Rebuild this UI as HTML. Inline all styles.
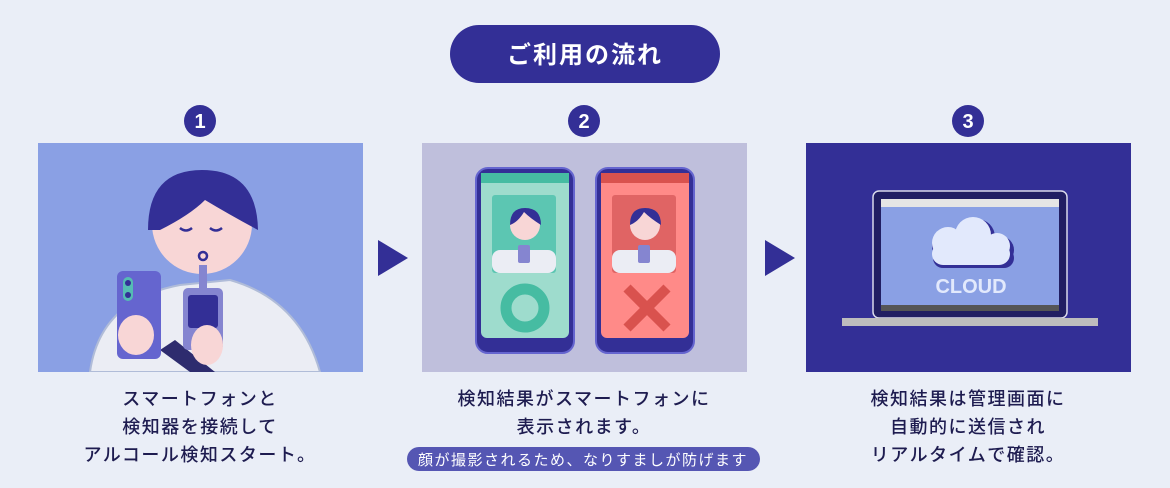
<!DOCTYPE html>
<html><head><meta charset="utf-8"><style>
body{margin:0;width:1170px;height:488px;background:#eaeef7;overflow:hidden;font-family:"Liberation Sans","Noto Sans CJK JP",sans-serif}
svg{display:block}
</style></head><body>
<svg width="1170" height="488" viewBox="0 0 1170 488" xmlns="http://www.w3.org/2000/svg" font-family="Liberation Sans, Noto Sans CJK JP, sans-serif">
<rect x="450" y="25" width="270" height="58" rx="29" fill="#332f96"/>
<text x="585" y="63" text-anchor="middle" fill="#fff" font-size="24" font-weight="bold" letter-spacing="2">ご利用の流れ</text>
<g fill="#332f96"><circle cx="200" cy="121" r="16"/><circle cx="584" cy="121" r="16"/><circle cx="968" cy="121" r="16"/></g>
<g fill="#fff" font-size="20" font-weight="bold" text-anchor="middle"><text x="200" y="128">1</text><text x="584" y="128">2</text><text x="968" y="128">3</text></g>
<!-- panel 1 -->
<rect x="38" y="143" width="325" height="229" fill="#8aa0e4"/>
<clipPath id="c1"><rect x="38" y="143" width="325" height="229"/></clipPath>
<g clip-path="url(#c1)">
<path d="M90 372 Q100 300 180 285 L230 280 Q300 300 320 372Z" fill="#ebedf4" stroke="#b0bcd8" stroke-width="2"/>
<circle cx="202" cy="224" r="50" fill="#f8d6d6"/>
<path d="M148 230 Q148 170 202 170 Q257 170 258 230 Q230 215 205 200 Q190 215 160 230Z" fill="#332f96"/>
<path d="M180 228 q6 5 12 0 M210 228 q6 5 12 0" stroke="#332f96" stroke-width="2.5" fill="none"/>
<circle cx="203" cy="256" r="4" fill="none" stroke="#332f96" stroke-width="2.5"/>
<rect x="199" y="265" width="8" height="28" fill="#8585d0"/>
<path d="M160 350 L175 340 L215 372 L190 372Z" fill="#2e2c6e"/>
<rect x="117" y="271" width="44" height="88" rx="6" fill="#6565cf"/>
<rect x="123" y="277" width="10" height="24" rx="5" fill="#55bcb3"/><circle cx="128" cy="283" r="3" fill="#332f96"/><circle cx="128" cy="295" r="3" fill="#332f96"/>
<rect x="183" y="288" width="40" height="62" rx="5" fill="#8585d0"/>
<rect x="188" y="295" width="30" height="33" rx="3" fill="#332f96"/>
<ellipse cx="136" cy="335" rx="18" ry="20" fill="#f8d6d6"/>
<ellipse cx="207" cy="345" rx="16" ry="20" fill="#f8d6d6"/>
</g>
<!-- arrows -->
<polygon points="378,240 408,258 378,276" fill="#332f96"/>
<polygon points="765,240 795,258 765,276" fill="#332f96"/>
<!-- panel 2 -->
<rect x="422" y="143" width="325" height="229" fill="#bfbfdc"/>
<rect x="476" y="168" width="98" height="185" rx="12" fill="#332f96" stroke="#6565cf" stroke-width="2"/>
<rect x="481" y="173" width="88" height="165" rx="6" fill="#9edccd"/>
<rect x="481" y="173" width="88" height="10" fill="#46bca2"/>
<rect x="492" y="195" width="64" height="78" rx="3" fill="#5cc6b2"/>
<circle cx="525" cy="308" r="19" fill="none" stroke="#46bca2" stroke-width="11"/>
<rect x="596" y="168" width="98" height="185" rx="12" fill="#332f96" stroke="#6565cf" stroke-width="2"/>
<rect x="601" y="173" width="88" height="165" rx="6" fill="#ff8a88"/>
<rect x="601" y="173" width="88" height="10" fill="#d9524e"/>
<rect x="612" y="195" width="64" height="78" rx="3" fill="#e06464"/>
<path d="M627 288 L667 328 M667 288 L627 328" stroke="#d9524e" stroke-width="10"/>
<g><circle cx="525" cy="225" r="15" fill="#f8d6d6"/><path d="M510 225 Q510 208 525 208 Q541 208 541 225 Q530 218 524 212 Q518 222 510 225Z" fill="#332f96"/><rect x="492" y="250" width="64" height="23" rx="8" fill="#ebedf4"/><rect x="518" y="245" width="12" height="18" rx="2" fill="#8585d0"/></g>
<g><circle cx="645" cy="225" r="15" fill="#f8d6d6"/><path d="M630 225 Q630 208 645 208 Q661 208 661 225 Q650 218 644 212 Q638 222 630 225Z" fill="#332f96"/><rect x="612" y="250" width="64" height="23" rx="8" fill="#ebedf4"/><rect x="638" y="245" width="12" height="18" rx="2" fill="#8585d0"/></g>
<!-- panel 3 -->
<rect x="806" y="143" width="325" height="229" fill="#332f96"/>
<rect x="873" y="191" width="194" height="127" rx="6" fill="#211e62" stroke="#d9d9ea" stroke-width="1.5"/>
<rect x="881" y="199" width="178" height="111" fill="#8aa0e4"/>
<rect x="881" y="199" width="178" height="8" fill="#e5e5e5"/>
<rect x="881" y="305" width="178" height="6" fill="#555"/>
<rect x="842" y="318" width="256" height="8" fill="#bdbdbd"/>
<g fill="#332f96"><circle cx="950" cy="246" r="18"/><circle cx="977" cy="237" r="18"/><circle cx="1000" cy="250" r="14"/><rect x="933" y="248" width="81" height="20" rx="10"/></g>
<g fill="#e2e9fc"><circle cx="948" cy="243" r="16"/><circle cx="973" cy="235" r="18"/><circle cx="997" cy="246" r="13"/><rect x="932" y="243" width="78" height="22" rx="11"/></g>
<text x="971" y="293" text-anchor="middle" fill="#e2e9fc" font-size="20" font-weight="bold">CLOUD</text>
<!-- captions -->
<g fill="#1e1c50" font-size="18" font-weight="500" text-anchor="middle" letter-spacing="1.5">
<text x="200" y="405">スマートフォンと</text><text x="200" y="433">検知器を接続して</text><text x="200" y="461">アルコール検知スタート。</text>
<text x="584" y="405">検知結果がスマートフォンに</text><text x="584" y="433">表示されます。</text>
<text x="968" y="405">検知結果は管理画面に</text><text x="968" y="433">自動的に送信され</text><text x="968" y="461">リアルタイムで確認。</text>
</g>
<rect x="407" y="447" width="353" height="24" rx="12" fill="#5556b3"/>
<text x="583" y="465" text-anchor="middle" fill="#fff" font-size="15" letter-spacing="1.5">顔が撮影されるため、なりすましが防げます</text>
</svg>
</body></html>
